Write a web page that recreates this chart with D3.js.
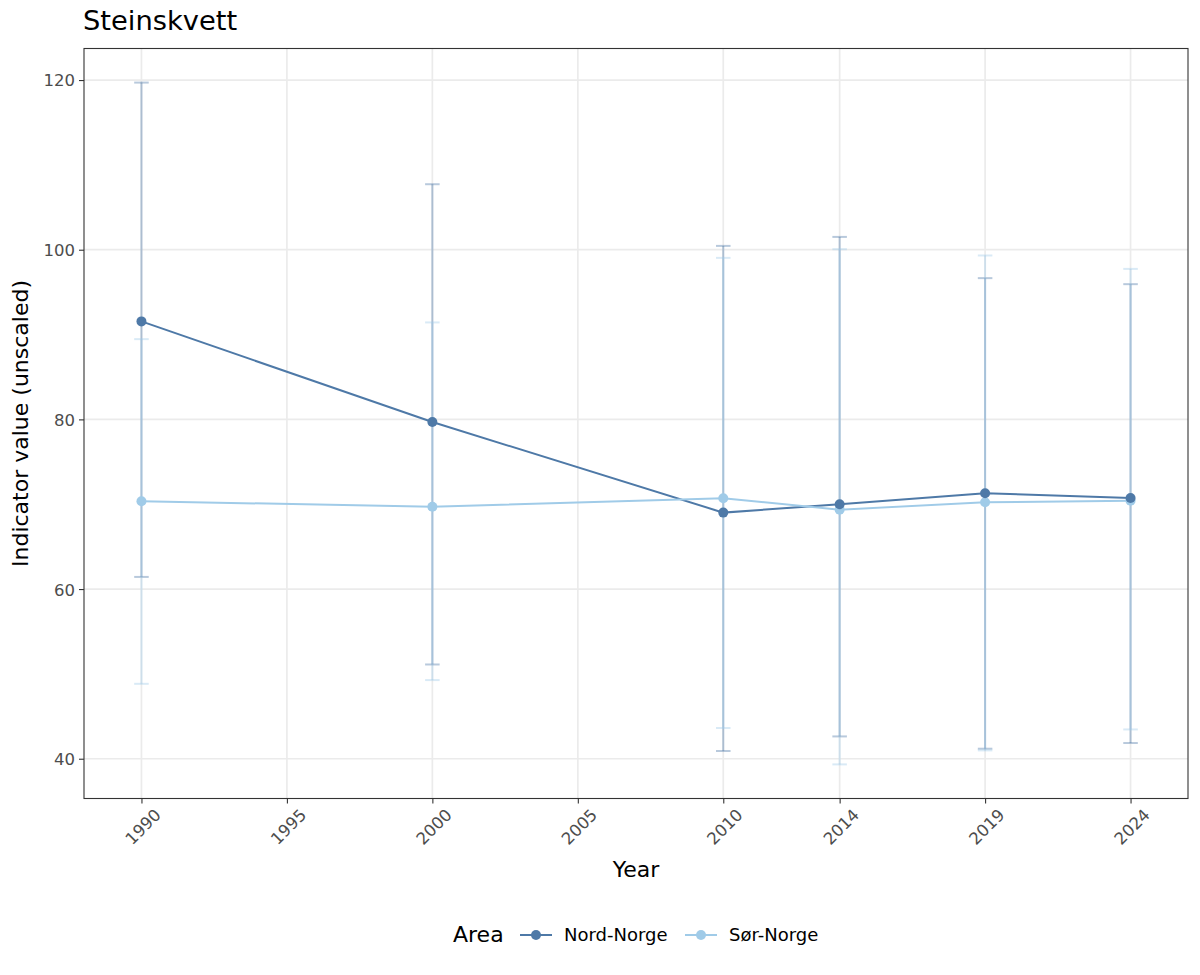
<!DOCTYPE html>
<html><head><meta charset="utf-8">
<script src="https://cdn.jsdelivr.net/npm/d3@7"></script>
<style>body{margin:0;background:#fff}svg{display:block}text{font-family:"DejaVu Sans",sans-serif}</style>
</head><body><svg id="c" width="1200" height="975"></svg>
<script>
const years = [1990, 2000, 2010, 2014, 2019, 2024];
const xBreaks = [1990, 1995, 2000, 2005, 2010, 2014, 2019, 2024];
const yBreaks = [40, 60, 80, 100, 120];
const areas = ["Nord-Norge", "Sør-Norge"];
const colors = ["#4E79A7", "#A0CBE8"];
const nordValue = [91.55, 79.69, 69.01, 70.0, 71.29, 70.74];
const nordLower = [61.43, 51.11, 40.91, 42.63, 41.18, 41.85];
const nordUpper = [119.7, 107.72, 100.45, 101.51, 96.65, 95.94];
const sorValue = [70.35, 69.71, 70.70, 69.36, 70.23, 70.42];
const sorLower = [48.83, 49.27, 43.62, 39.33, 40.98, 43.45];
const sorUpper = [89.46, 91.43, 99.04, 100.06, 99.32, 97.74];

const series = [
  {name: areas[0], color: colors[0], v: nordValue, lo: nordLower, hi: nordUpper},
  {name: areas[1], color: colors[1], v: sorValue, lo: sorLower, hi: sorUpper}
];

const svg = d3.select("#c");
const L = 84, R = 1188, T = 48.5, B = 798.5;
const ebw = 0.5;
const xmin = d3.min(years) - ebw/2, xmax = d3.max(years) + ebw/2;
const xpad = (xmax - xmin) * 0.05;
const x = d3.scaleLinear().domain([xmin - xpad, xmax + xpad]).range([L, R]);
const allLo = d3.min(series.flatMap(s => s.lo)), allHi = d3.max(series.flatMap(s => s.hi));
const ypad = (allHi - allLo) * 0.05;
const y = d3.scaleLinear().domain([allLo - ypad, allHi + ypad]).range([B, T]);

// grid
const g = svg.append("g");
g.selectAll(".gy").data(yBreaks).join("line")
  .attr("x1", L).attr("x2", R).attr("y1", d => y(d)).attr("y2", d => y(d))
  .attr("stroke", "#ebebeb").attr("stroke-width", 1.7);
g.selectAll(".gx").data(xBreaks).join("line")
  .attr("y1", T).attr("y2", B).attr("x1", d => x(d)).attr("x2", d => x(d))
  .attr("stroke", "#ebebeb").attr("stroke-width", 1.7);

// error bars
const drawOrder = [series[1], series[0]];
series.forEach(s => {
  const eg = svg.append("g").attr("stroke", s.color).attr("stroke-opacity", 0.4).attr("stroke-width", 2);
  years.forEach((yr, i) => {
    eg.append("line").attr("x1", x(yr)).attr("x2", x(yr)).attr("y1", y(s.lo[i])).attr("y2", y(s.hi[i]));
    eg.append("line").attr("x1", x(yr - ebw/2)).attr("x2", x(yr + ebw/2)).attr("y1", y(s.lo[i])).attr("y2", y(s.lo[i]));
    eg.append("line").attr("x1", x(yr - ebw/2)).attr("x2", x(yr + ebw/2)).attr("y1", y(s.hi[i])).attr("y2", y(s.hi[i]));
  });
});
// lines
const line = d3.line().x((d, i) => x(years[i])).y(d => y(d));
series.forEach(s => {
  svg.append("path").attr("d", line(s.v)).attr("fill", "none").attr("stroke", s.color).attr("stroke-width", 2);
});
// points
drawOrder.forEach(s => {
  svg.append("g").selectAll("circle").data(s.v).join("circle")
    .attr("cx", (d, i) => x(years[i])).attr("cy", d => y(d)).attr("r", 5).attr("fill", s.color);
});

// border
svg.append("rect").attr("x", L).attr("y", T).attr("width", R - L).attr("height", B - T)
  .attr("fill", "none").attr("stroke", "#333333").attr("stroke-width", 1.1);

// axes
const yAxis = svg.append("g").attr("transform", `translate(${L},0)`)
  .call(d3.axisLeft(y).tickValues(yBreaks).tickSize(5).tickPadding(4).tickFormat(d3.format("d")));
const xAxis = svg.append("g").attr("transform", `translate(0,${B})`)
  .call(d3.axisBottom(x).tickValues(xBreaks).tickSize(5).tickFormat(d3.format("d")));
[yAxis, xAxis].forEach(a => {
  a.select(".domain").remove();
  a.selectAll(".tick line").attr("stroke", "#333333").attr("stroke-width", 1.1);
  a.selectAll("text").attr("fill", "#4d4d4d").style("font-size", "16.5px").style("font-family", "DejaVu Sans");
});
yAxis.selectAll("text").attr("dy", "0.36em");
xAxis.selectAll("text")
  .attr("text-anchor", "end").attr("dy", null).attr("y", null)
  .attr("transform", "translate(11.5,9) rotate(-45)")
  .attr("dominant-baseline", "hanging");

// titles
svg.append("text").attr("x", L - 1).attr("y", 30).text("Steinskvett")
  .style("font-size", "27.3px").attr("fill", "#000");
svg.append("text").attr("x", (L + R) / 2).attr("y", 877).attr("text-anchor", "middle")
  .text("Year").style("font-size", "22px").attr("fill", "#000");
svg.append("text").attr("transform", `translate(28,${(T + B) / 2}) rotate(-90)`).attr("text-anchor", "middle")
  .text("Indicator value (unscaled)").style("font-size", "22px").attr("fill", "#000");

// legend
const lg = svg.append("g");
lg.append("text").attr("x", 453).attr("y", 942).text("Area").style("font-size", "22px").attr("fill", "#000");
const keyX = [520, 685];
series.forEach((s, i) => {
  lg.append("line").attr("x1", keyX[i]).attr("x2", keyX[i] + 32).attr("y1", 935).attr("y2", 935)
    .attr("stroke", s.color).attr("stroke-width", 2);
  lg.append("circle").attr("cx", keyX[i] + 16).attr("cy", 935).attr("r", 5).attr("fill", s.color);
  lg.append("text").attr("x", keyX[i] + 44).attr("y", 941).text(s.name).style("font-size", "18px").attr("fill", "#000");
});
</script></body></html>
